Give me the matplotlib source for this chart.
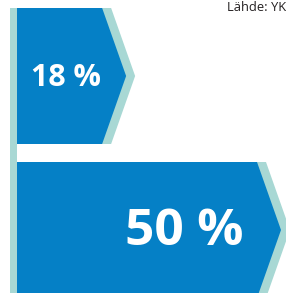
import matplotlib
matplotlib.use("Agg")
import matplotlib.pyplot as plt
from matplotlib.patches import Polygon, Rectangle

# Data
values = [18, 50]
labels = ["18 %", "50 %"]
source = "Lähde: YK"

BLUE = "#0580c6"
TEAL = "#a8d8d4"

W, H = 286, 293
fig = plt.figure(figsize=(W / 100, H / 100), dpi=100)
ax = fig.add_axes([0, 0, 1, 1])
ax.axis("off")

# Scales: x in percent, y in category slots
px_per_pct = 4.84
x0_px = 15
slot_px = 154
first_center_px = 76
ax.set_xlim(-x0_px / px_per_pct, (W - x0_px) / px_per_pct)
ax.set_ylim((H - first_center_px) / slot_px, -first_center_px / slot_px)

half_h = 68 / slot_px
tip = 24 / px_per_pct
off = 9 / px_per_pct

label_x = [10.6, 35.0]
font_sizes = [22, 37]

for i, v in enumerate(values):
    y = i
    teal = Polygon([(0, y - half_h), (v + off, y - half_h), (v + off + tip, y),
                    (v + off, y + half_h), (0, y + half_h)],
                   closed=True, facecolor=TEAL, edgecolor="none", zorder=1)
    blue = Polygon([(0, y - half_h), (v, y - half_h), (v + tip, y),
                    (v, y + half_h), (0, y + half_h)],
                   closed=True, facecolor=BLUE, edgecolor="none", zorder=2)
    ax.add_patch(teal)
    ax.add_patch(blue)
    ax.text(label_x[i], y + 0.01, labels[i], color="white", fontsize=font_sizes[i],
            fontweight="bold", family="Open Sans", ha="center", va="center", zorder=4)

# Left vertical axis strip
ax.add_patch(Rectangle((-5 / px_per_pct, -half_h), 7 / px_per_pct, 3,
                       facecolor=TEAL, edgecolor="none", zorder=3))

fig.text(0.999, 0.962, source, ha="right", va="baseline", fontsize=9.3, family="Open Sans",
         color="#231f20")

fig.savefig("out.png", dpi=100)
